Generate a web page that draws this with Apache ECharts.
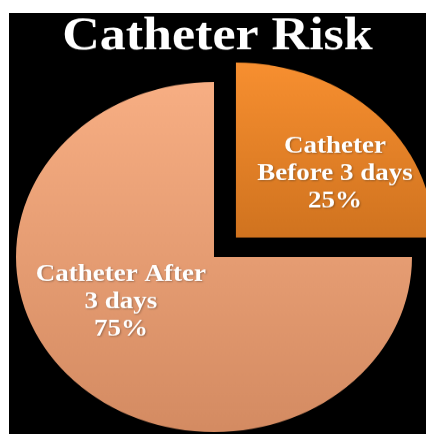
<!DOCTYPE html>
<html>
<head>
<meta charset="utf-8">
<script src="https://cdn.jsdelivr.net/npm/echarts@6/dist/echarts.min.js"></script>
<style>
html,body{margin:0;padding:0;background:#ffffff;width:426px;height:434px;overflow:hidden;}
#frame{position:absolute;left:9px;top:13px;width:417px;height:421px;background:#000;overflow:hidden;}
#chart{position:absolute;left:0;top:0;width:417px;height:476px;transform:scaleY(0.884);transform-origin:0 0;}
</style>
</head>
<body>
<div id="frame"><div id="chart"></div></div>
<script>
var titleText = 'Catheter Risk';
var categories = ['Catheter\nBefore 3 days', 'Catheter After\n3 days'];
var values = [25, 75];
var labelShift = [[27, 0], [-21, -21]];

var gradients = [
  new echarts.graphic.LinearGradient(0, 0, 0, 1, [
    {offset: 0, color: '#F78F30'}, {offset: 1, color: '#D0731F'}
  ]),
  new echarts.graphic.LinearGradient(0, 0, 0, 1, [
    {offset: 0, color: '#F7AE83'}, {offset: 1, color: '#D48B62'}
  ])
];

var chart = echarts.init(document.getElementById('chart'), null, {renderer: 'canvas'});
chart.setOption({
  backgroundColor: '#000000',
  animation: false,
  title: {
    text: titleText,
    left: 'center',
    top: -3,
    textStyle: {
      color: '#ffffff',
      fontFamily: 'Liberation Serif',
      fontWeight: 'bold',
      fontSize: 52,
      textShadowColor: 'rgba(0,0,0,0.4)',
      textShadowBlur: 2,
      textShadowOffsetX: 1,
      textShadowOffsetY: 1
    }
  },
  series: [{
    type: 'pie',
    center: [205, 276],
    radius: [0, 198],
    startAngle: 90,
    clockwise: true,
    selectedMode: 'multiple',
    selectedOffset: 31,
    avoidLabelOverlap: false,
    emphasis: {disabled: true},
    label: {
      show: true,
      position: 'inside',
      color: '#ffffff',
      fontFamily: 'Liberation Serif',
      fontWeight: 'bold',
      fontSize: 27,
      lineHeight: 31,
      align: 'center',
      formatter: function (p) { return p.name + '\n' + Math.round(p.percent) + '%'; },
      textShadowColor: 'rgba(0,0,0,0.3)',
      textShadowBlur: 2,
      textShadowOffsetX: 1,
      textShadowOffsetY: 1
    },
    labelLine: {show: false},
    labelLayout: function (p) {
      var s = labelShift[p.dataIndex];
      return {dx: s[0], dy: s[1]};
    },
    data: values.map(function (v, i) {
      return {
        name: categories[i],
        value: v,
        selected: i === 0,
        itemStyle: {color: gradients[i], borderWidth: 0}
      };
    })
  }]
});
</script>
</body>
</html>
